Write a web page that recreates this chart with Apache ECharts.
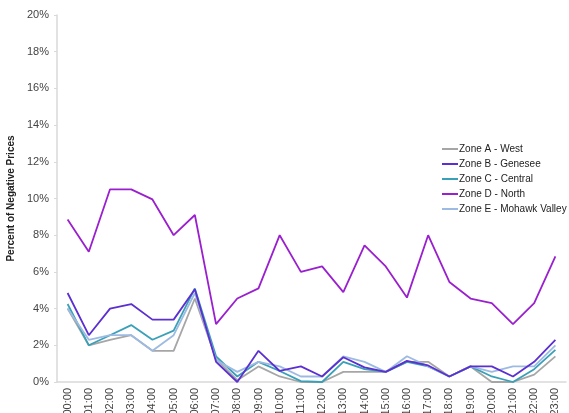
<!DOCTYPE html>
<html><head><meta charset="utf-8">
<script src="https://cdn.jsdelivr.net/npm/echarts@6/dist/echarts.min.js"></script>
<style>html,body{margin:0;padding:0;background:#fff}#c{width:569px;height:413px}</style>
</head><body><div id="c"></div>
<script>
const categories = ["00:00","01:00","02:00","03:00","04:00","05:00","06:00","07:00","08:00","09:00","10:00","11:00","12:00","13:00","14:00","15:00","16:00","17:00","18:00","19:00","20:00","21:00","22:00","23:00"];
const yTicks = [0,2,4,6,8,10,12,14,16,18,20];
const zoneA = [4.0,2.0,2.3,2.55,1.7,1.7,4.55,1.25,0.1,0.85,0.3,0.0,0.0,0.55,0.55,0.55,1.1,1.1,0.3,0.85,0.0,0.0,0.4,1.4];
const zoneB = [4.85,2.55,4.0,4.25,3.4,3.4,5.05,1.1,0.0,1.7,0.6,0.85,0.3,1.35,0.8,0.55,1.15,0.9,0.3,0.85,0.85,0.3,1.1,2.3];
const zoneC = [4.25,2.0,2.55,3.1,2.3,2.8,5.1,1.4,0.3,1.1,0.6,0.05,0.0,1.1,0.7,0.55,1.1,0.85,0.3,0.85,0.3,0.0,0.7,1.75];
const zoneD = [8.86,7.1,10.5,10.5,9.95,8.0,9.1,3.15,4.55,5.1,8.0,6.0,6.3,4.9,7.45,6.3,4.6,8.0,5.45,4.55,4.3,3.15,4.3,6.85];
const zoneE = [4.0,2.3,2.55,2.55,1.7,2.55,4.85,1.2,0.55,1.1,0.85,0.3,0.3,1.4,1.1,0.55,1.4,0.85,0.3,0.85,0.55,0.85,0.85,2.0];
const names = ["Zone A - West","Zone B - Genesee","Zone C - Central","Zone D - North","Zone E - Mohawk Valley"];
const colors = ["#a6a6a6","#5b2fd0","#3aa0b8","#9a1fce","#9dbbe2"];
const values = [zoneA,zoneB,zoneC,zoneD,zoneE];

const chart = echarts.init(document.getElementById('c'));
chart.setOption({
  animation:false,
  textStyle:{fontFamily:'Liberation Sans, Arial, sans-serif'},
  grid:{left:57,right:3,top:15,bottom:31,containLabel:false,outerBoundsMode:'none'},
  legend:{
    orient:'vertical', left:437, top:139, itemGap:5,
    itemWidth:16, itemHeight:2, icon:'rect',
    textStyle:{fontSize:10,color:'#222',padding:[0,0,0,-4]},
    data:names
  },
  xAxis:{
    type:'category', data:categories, boundaryGap:true,
    axisLine:{lineStyle:{color:'#d9d9d9',width:1.5}},
    axisTick:{show:false},
    axisLabel:{rotate:90,fontSize:11,color:'#444',margin:6,interval:0}
  },
  yAxis:{
    type:'value', min:0, max:20, interval:2,
    name:'Percent of Negative Prices', nameLocation:'middle', nameGap:30,
    nameTextStyle:{fontSize:10,fontWeight:'bold',color:'#222'},
    axisLine:{show:true,lineStyle:{color:'#d9d9d9',width:1.5}},
    axisTick:{show:true,length:3,lineStyle:{color:'#d9d9d9'}},
    splitLine:{show:false},
    axisLabel:{fontSize:11,color:'#444',margin:8,formatter:v=>yTicks.includes(v)?v+'%':''}
  },
  series: names.map((n,i)=>({
    name:n, type:'line', data:values[i], symbol:'none',
    lineStyle:{color:colors[i],width:1.8}, itemStyle:{color:colors[i]},
    z: i===3?5:(i===1?4:3)
  }))
});
</script></body></html>
